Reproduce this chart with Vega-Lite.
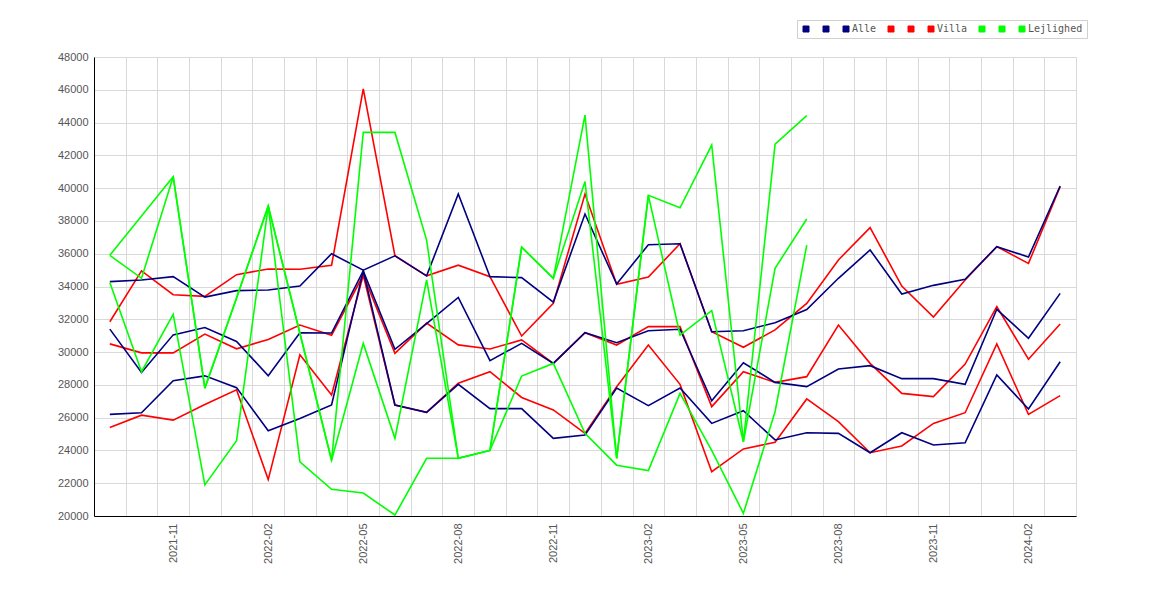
{
  "$schema": "https://vega.github.io/schema/vega-lite/v6.json",
  "width": 982,
  "height": 459,
  "autosize": {"type": "none"},
  "padding": {"left": 94, "top": 57, "right": 94, "bottom": 84},
  "background": "white",
  "config": {"view": {"stroke": null}, "font": "Liberation Sans"},
  "data": {"values": [
    {"md": "2021-09", "Alle_1": 34300, "Alle_2": 31400, "Alle": 26200, "Villa_1": 31850, "Villa_2": 30500, "Villa": 25400, "Lejlighed_1": 35900, "Lejlighed_2": 35900, "Lejlighed": 34250},
    {"md": "2021-10", "Alle_1": 34400, "Alle_2": 28750, "Alle": 26300, "Villa_1": 34950, "Villa_2": 29950, "Villa": 26150, "Lejlighed_1": 38300, "Lejlighed_2": 34500, "Lejlighed": 28800},
    {"md": "2021-11", "Alle_1": 34600, "Alle_2": 31050, "Alle": 28250, "Villa_1": 33500, "Villa_2": 29950, "Villa": 25850, "Lejlighed_1": 40700, "Lejlighed_2": 40700, "Lejlighed": 32300},
    {"md": "2021-12", "Alle_1": 33350, "Alle_2": 31500, "Alle": 28550, "Villa_1": 33400, "Villa_2": 31100, "Villa": 26800, "Lejlighed_1": 27800, "Lejlighed_2": 27800, "Lejlighed": 21900},
    {"md": "2022-01", "Alle_1": 33750, "Alle_2": 30650, "Alle": 27830, "Villa_1": 34720, "Villa_2": 30200, "Villa": 27700, "Lejlighed_1": 33300, "Lejlighed_2": 33300, "Lejlighed": 24600},
    {"md": "2022-02", "Alle_1": 33790, "Alle_2": 28560, "Alle": 25200, "Villa_1": 35070, "Villa_2": 30770, "Villa": 22220, "Lejlighed_1": 38900, "Lejlighed_2": 38900, "Lejlighed": 38900},
    {"md": "2022-03", "Alle_1": 34030, "Alle_2": 31180, "Alle": 25950, "Villa_1": 35050, "Villa_2": 31650, "Villa": 29830, "Lejlighed_1": 31150, "Lejlighed_2": 31150, "Lejlighed": 23300},
    {"md": "2022-04", "Alle_1": 36000, "Alle_2": 31160, "Alle": 26770, "Villa_1": 35300, "Villa_2": 31020, "Villa": 27380, "Lejlighed_1": 23400, "Lejlighed_2": 23400, "Lejlighed": 21630},
    {"md": "2022-05", "Alle_1": 35000, "Alle_2": 34950, "Alle": 34950, "Villa_1": 46050, "Villa_2": 34700, "Villa": 34700, "Lejlighed_1": 43400, "Lejlighed_2": 30530, "Lejlighed": 21400},
    {"md": "2022-06", "Alle_1": 35870, "Alle_2": 30170, "Alle": 26770, "Villa_1": 35880, "Villa_2": 29920, "Villa": 26770, "Lejlighed_1": 43400, "Lejlighed_2": 24740, "Lejlighed": 20060},
    {"md": "2022-07", "Alle_1": 34650, "Alle_2": 31730, "Alle": 26320, "Villa_1": 34650, "Villa_2": 31770, "Villa": 26320, "Lejlighed_1": 36830, "Lejlighed_2": 34400, "Lejlighed": 23520},
    {"md": "2022-08", "Alle_1": 39640, "Alle_2": 33330, "Alle": 28030, "Villa_1": 35300, "Villa_2": 30440, "Villa": 28100, "Lejlighed_1": 23520, "Lejlighed_2": 23520, "Lejlighed": 23520},
    {"md": "2022-09", "Alle_1": 34600, "Alle_2": 29480, "Alle": 26550, "Villa_1": 34600, "Villa_2": 30190, "Villa": 28800, "Lejlighed_1": 24000, "Lejlighed_2": 24000, "Lejlighed": 24000},
    {"md": "2022-10", "Alle_1": 34540, "Alle_2": 30530, "Alle": 26550, "Villa_1": 30980, "Villa_2": 30740, "Villa": 27230, "Lejlighed_1": 36400, "Lejlighed_2": 36400, "Lejlighed": 28540},
    {"md": "2022-11", "Alle_1": 33050, "Alle_2": 29310, "Alle": 24740, "Villa_1": 32970, "Villa_2": 29310, "Villa": 26470, "Lejlighed_1": 34500, "Lejlighed_2": 34500, "Lejlighed": 29310},
    {"md": "2022-12", "Alle_1": 38420, "Alle_2": 31180, "Alle": 24940, "Villa_1": 39640, "Villa_2": 31180, "Villa": 25040, "Lejlighed_1": 44450, "Lejlighed_2": 40400, "Lejlighed": 25040},
    {"md": "2023-01", "Alle_1": 34150, "Alle_2": 30570, "Alle": 27810, "Villa_1": 34130, "Villa_2": 30430, "Villa": 27890, "Lejlighed_1": 23520, "Lejlighed_2": 23520, "Lejlighed": 23100},
    {"md": "2023-02", "Alle_1": 36550, "Alle_2": 31300, "Alle": 26730, "Villa_1": 34580, "Villa_2": 31550, "Villa": 30430, "Lejlighed_1": 39560, "Lejlighed_2": 39560, "Lejlighed": 22770},
    {"md": "2023-03", "Alle_1": 36610, "Alle_2": 31390, "Alle": 27810, "Villa_1": 36610, "Villa_2": 31550, "Villa": 28030, "Lejlighed_1": 38800, "Lejlighed_2": 31040, "Lejlighed": 27480},
    {"md": "2023-04", "Alle_1": 31240, "Alle_2": 27030, "Alle": 25650, "Villa_1": 31240, "Villa_2": 26670, "Villa": 22700, "Lejlighed_1": 42630, "Lejlighed_2": 32530, "Lejlighed": 24000},
    {"md": "2023-05", "Alle_1": 31300, "Alle_2": 29350, "Alle": 26420, "Villa_1": 30290, "Villa_2": 28800, "Villa": 24090, "Lejlighed_1": 24530, "Lejlighed_2": 24530, "Lejlighed": 20160},
    {"md": "2023-06", "Alle_1": 31790, "Alle_2": 28150, "Alle": 24640, "Villa_1": 31350, "Villa_2": 28150, "Villa": 24500, "Lejlighed_1": 42690, "Lejlighed_2": 35110, "Lejlighed": 26360},
    {"md": "2023-07", "Alle_1": 32600, "Alle_2": 27890, "Alle": 25080, "Villa_1": 32970, "Villa_2": 28500, "Villa": 27140, "Lejlighed_1": 44420, "Lejlighed_2": 38120, "Lejlighed": 36520},
    {"md": "2023-08", "Alle_1": 34500, "Alle_2": 28970, "Alle": 25040, "Villa_1": 35620, "Villa_2": 31650, "Villa": 25760},
    {"md": "2023-09", "Alle_1": 36230, "Alle_2": 29170, "Alle": 23860, "Villa_1": 37590, "Villa_2": 29310, "Villa": 23860},
    {"md": "2023-10", "Alle_1": 33540, "Alle_2": 28380, "Alle": 25080, "Villa_1": 34030, "Villa_2": 27480, "Villa": 24270},
    {"md": "2023-11", "Alle_1": 34070, "Alle_2": 28380, "Alle": 24330, "Villa_1": 32140, "Villa_2": 27280, "Villa": 25650},
    {"md": "2023-12", "Alle_1": 34440, "Alle_2": 28030, "Alle": 24470, "Villa_1": 34400, "Villa_2": 29270, "Villa": 26300},
    {"md": "2024-01", "Alle_1": 36430, "Alle_2": 32610, "Alle": 28600, "Villa_1": 36430, "Villa_2": 32770, "Villa": 30490},
    {"md": "2024-02", "Alle_1": 35800, "Alle_2": 30840, "Alle": 26530, "Villa_1": 35410, "Villa_2": 29560, "Villa": 26200},
    {"md": "2024-03", "Alle_1": 40130, "Alle_2": 33580, "Alle": 29410, "Villa_1": 40090, "Villa_2": 31710, "Villa": 27340}
  ]},
  "transform": [
    {"fold": ["Villa_1", "Villa_2", "Villa", "Alle_1", "Alle_2", "Alle", "Lejlighed_1", "Lejlighed_2", "Lejlighed"], "as": ["serie", "pris"]}
  ],
  "mark": {"type": "line", "strokeWidth": 1.6},
  "encoding": {
    "x": {
      "field": "md",
      "type": "ordinal",
      "bandPosition": 0.5,
      "scale": {"type": "band", "paddingInner": 0, "paddingOuter": 0},
      "axis": {
        "title": null,
        "grid": true,
        "tickBand": "extent",
        "gridColor": "#d9d9d9",
        "gridWidth": 1,
        "ticks": false,
        "domainColor": "#000000",
        "domainWidth": 1,
        "labelAngle": 270,
        "labelAlign": "right",
        "labelBaseline": "middle",
        "labelPadding": 7,
        "labelFont": "Liberation Sans",
        "labelFontSize": 11,
        "labelColor": "#555555",
        "labelExpr": "indexof(['02','05','08','11'], slice(datum.label, 5)) >= 0 ? datum.label : ''"
      }
    },
    "y": {
      "field": "pris",
      "type": "quantitative",
      "scale": {"domain": [20000, 48000], "nice": false, "zero": false},
      "axis": {
        "title": null,
        "values": [20000, 22000, 24000, 26000, 28000, 30000, 32000, 34000, 36000, 38000, 40000, 42000, 44000, 46000, 48000],
        "format": "d",
        "grid": true,
        "gridColor": "#d9d9d9",
        "ticks": false,
        "domainColor": "#000000",
        "domainWidth": 1,
        "labelPadding": 6,
        "labelFont": "Liberation Sans",
        "labelFontSize": 11,
        "labelColor": "#555555"
      }
    },
    "color": {
      "field": "serie",
      "type": "nominal",
      "scale": {
        "domain": ["Alle_1", "Alle_2", "Alle", "Villa_1", "Villa_2", "Villa", "Lejlighed_1", "Lejlighed_2", "Lejlighed"],
        "range": ["#000080", "#000080", "#000080", "#ff0000", "#ff0000", "#ff0000", "#00ff00", "#00ff00", "#00ff00"]
      },
      "legend": {
        "orient": "none",
        "legendX": 703,
        "legendY": -37,
        "direction": "horizontal",
        "title": null,
        "symbolType": "square",
        "symbolSize": 36,
        "symbolStrokeColor": "#555555",
        "symbolStrokeWidth": 1,
        "labelExpr": "indexof(datum.label, '_') >= 0 ? ' ' : datum.label",
        "labelFont": "DejaVu Sans Mono",
        "labelFontSize": 10,
        "labelColor": "#555555",
        "labelOffset": 1,
        "columnPadding": 9,
        "padding": 4,
        "strokeColor": "#d0d0d0",
        "fillColor": "white",
        "encode": {
          "symbols": {
            "update": {
              "fill": {"scale": "color", "field": "value"},
              "stroke": {"value": "#555555"},
              "strokeWidth": {"value": 1},
              "opacity": {"value": 1},
              "fillOpacity": {"value": 1}
            }
          }
        }
      }
    }
  }
}
